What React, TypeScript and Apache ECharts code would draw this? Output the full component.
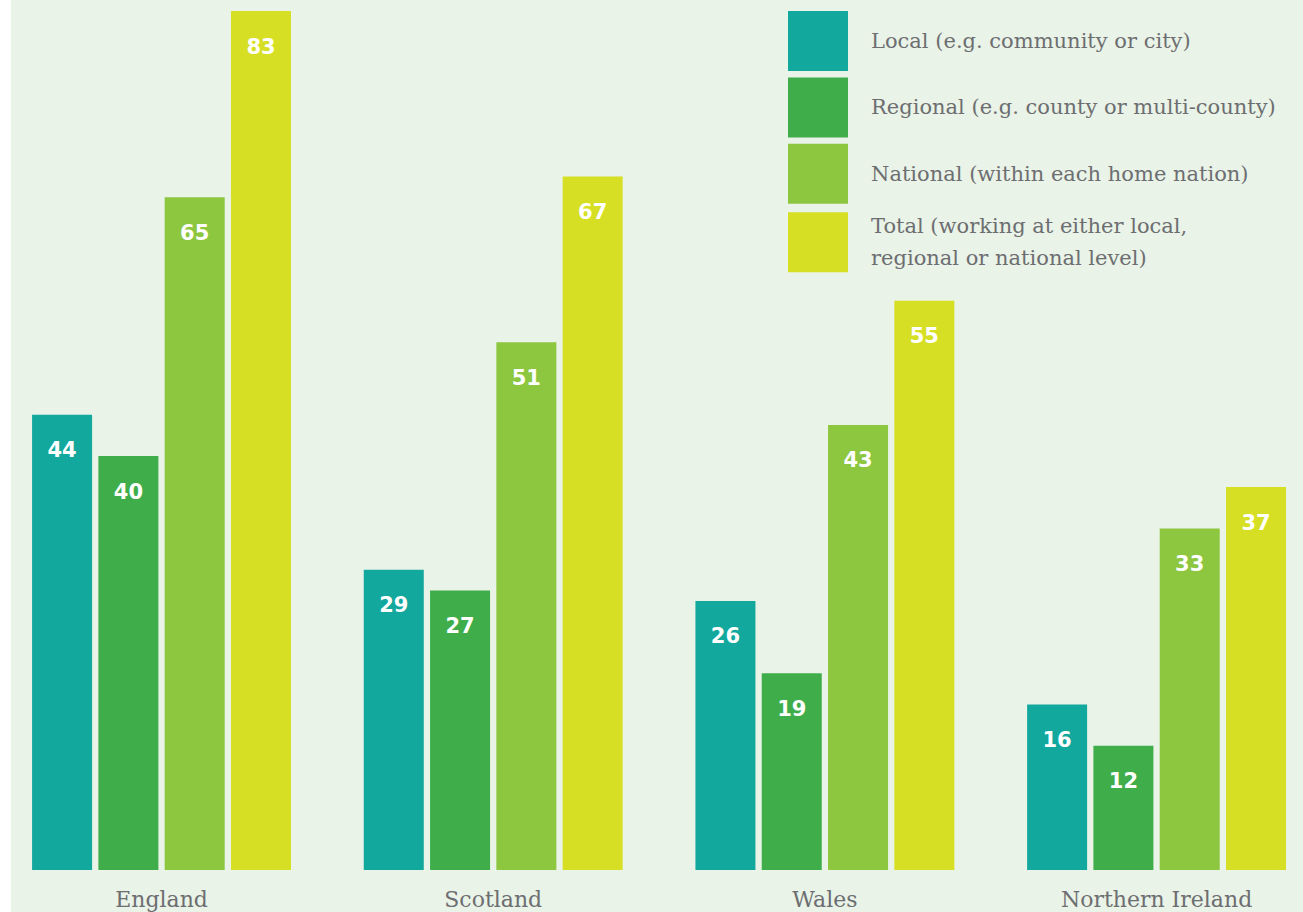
import React, { useEffect, useRef } from "react";
import * as echarts from "echarts";

const categories = ["England", "Scotland", "Wales", "Northern Ireland"];
const seriesNames = [
  "Local (e.g. community or city)",
  "Regional (e.g. county or multi-county)",
  "National (within each home nation)",
  "Total (working at either local,\nregional or national level)",
];
const localValues = [44, 29, 26, 16];
const regionalValues = [40, 27, 19, 12];
const nationalValues = [65, 51, 43, 33];
const totalValues = [83, 67, 55, 37];
const colors = ["#12a89d", "#3fae4a", "#8dc63f", "#d6df23"];

const GRAY = "#6d6e71";
const SERIF = "'DejaVu Serif', 'Liberation Serif', serif";
const SANS = "'DejaVu Sans', 'Liberation Sans', sans-serif";

const OFFSET = 10;

export default function App() {
  const ref = useRef<HTMLDivElement>(null);
  useEffect(() => {
    if (!ref.current) return;
    const chart = echarts.init(ref.current, undefined, { renderer: "svg" });
    const data = [localValues, regionalValues, nationalValues, totalValues];
    chart.setOption({
      animation: false,
      backgroundColor: "transparent",
      color: colors,
      grid: { left: 5.7, right: 7.6, top: 11, bottom: 42, containLabel: false },
      legend: {
        orient: "vertical",
        left: 788 + OFFSET,
        top: 11,
        padding: 0,
        itemWidth: 60,
        itemHeight: 60,
        itemGap: 6.4,
        icon: "rect",
        selectedMode: false,
        textStyle: {
          color: GRAY,
          fontFamily: SERIF,
          fontSize: 21,
          lineHeight: 32,
          padding: [0, 0, 0, 18],
        },
        data: seriesNames,
      },
      xAxis: {
        type: "category",
        data: categories,
        axisLine: { show: false },
        axisTick: { show: false },
        axisLabel: {
          color: GRAY,
          fontFamily: SERIF,
          fontSize: 22,
          margin: 18,
          verticalAlign: "top",
        },
      },
      yAxis: {
        type: "value",
        min: 0,
        max: 83,
        show: false,
        splitLine: { show: false },
      },
      series: data.map((vals, i) => ({
        name: seriesNames[i],
        type: "bar",
        data: vals,
        barWidth: 60,
        barGap: "10.5%",
        itemStyle: { color: colors[i] },
        label: {
          show: true,
          position: "insideTop",
          distance: 25,
          color: "#ffffff",
          fontFamily: SANS,
          fontWeight: "bold",
          fontSize: 21,
        },
      })),
    });
    return () => chart.dispose();
  }, []);
  return (
    <div
      style={{
        position: "absolute",
        left: 0,
        top: 0,
        width: 1303,
        height: 912,
        overflow: "hidden",
        background: "linear-gradient(to right, #ffffff 11px, #e9f3e7 11px)",
      }}
    >
      <div
        ref={ref}
        style={{
          position: "absolute",
          left: -OFFSET,
          top: 0,
          width: 1340,
          height: 912,
        }}
      />
    </div>
  );
}
